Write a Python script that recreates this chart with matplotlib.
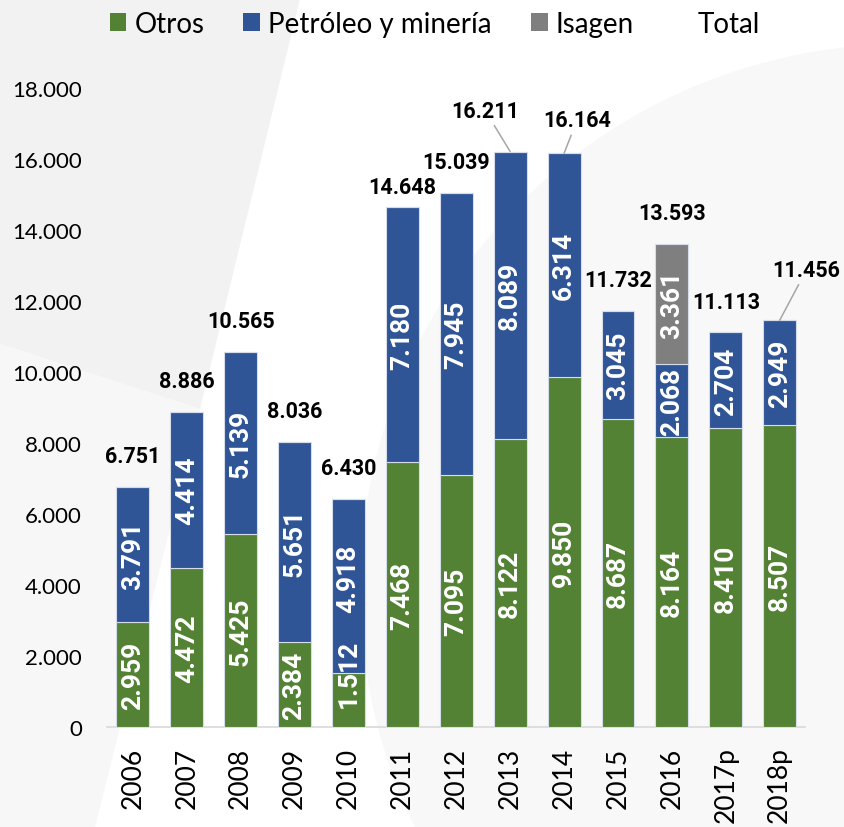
import matplotlib
matplotlib.use('Agg')
import matplotlib.pyplot as plt
from matplotlib.patches import Patch, Polygon, Circle
from matplotlib.transforms import Affine2D

plt.rcParams['font.family'] = ['Lato', 'DejaVu Sans']
BOLD = ['Roboto', 'DejaVu Sans']

years = ['2006', '2007', '2008', '2009', '2010', '2011', '2012',
         '2013', '2014', '2015', '2016', '2017p', '2018p']
otros = [2959, 4472, 5425, 2384, 1512, 7468, 7095,
         8122, 9850, 8687, 8164, 8410, 8507]
petroleo = [3791, 4414, 5139, 5651, 4918, 7180, 7945,
            8089, 6314, 3045, 2068, 2704, 2949]
isagen = [0, 0, 0, 0, 0, 0, 0, 0, 0, 0, 3361, 0, 0]
totals = [6751, 8886, 10565, 8036, 6430, 14648, 15039,
          16211, 16164, 11732, 13593, 11113, 11456]
yticks = [0, 2000, 4000, 6000, 8000, 10000, 12000, 14000, 16000, 18000]

GREEN = '#548235'
BLUE = '#2f5597'
GRAY = '#7f7f7f'

W, H = 844, 828


def px(x, y):
    # pixel coords (from top-left) -> figure fraction
    return (x / W, 1 - y / H)


def fmt(v):
    return '{:,}'.format(v).replace(',', '.')


fig = plt.figure(figsize=(W / 100, H / 100), dpi=100, facecolor='white')

# faint background shapes
fig.patches.append(Polygon([px(0, 0), px(300, 0), px(200, 410), px(0, 345)],
                           closed=True, transform=fig.transFigure,
                           facecolor='#f2f2f2', edgecolor='none', zorder=0))
fig.patches.append(Polygon([px(0, 345), px(200, 410), px(95, 828), px(0, 828)],
                           closed=True, transform=fig.transFigure,
                           facecolor='#f7f7f7', edgecolor='none', zorder=0))
circ = Circle((905, 590), 545, facecolor='#f8f8f8', edgecolor='none', zorder=0)
circ.set_transform(Affine2D().scale(1, -1).translate(0, H))
fig.patches.append(circ)

ax = fig.add_axes([107 / W, 1 - 728 / H, 698 / W, 639 / H])
ax.set_facecolor('none')
ax.set_zorder(2)

x = list(range(len(years)))
bw = 0.61
edge = dict(edgecolor='#d6dcea', linewidth=0.8)
ax.bar(x, otros, bw, color=GREEN, label='Otros', zorder=3, **edge)
ax.bar(x, petroleo, bw, bottom=otros, color=BLUE,
       label='Petróleo y minería', zorder=3, **edge)
bottom2 = [a + b for a, b in zip(otros, petroleo)]
ax.bar(x, isagen, bw, bottom=bottom2, color=GRAY, label='Isagen',
       zorder=3, **edge)

ax.set_xlim(-0.48, 12.47)
ax.set_ylim(0, 18000)
ax.set_yticks(yticks)
ax.set_yticklabels([fmt(v) for v in yticks], fontsize=16)
ax.set_xticks(x)
ax.set_xticklabels(years, rotation=90, fontsize=19)
ax.tick_params(axis='y', length=0, pad=18)
ax.tick_params(axis='x', length=0, pad=14)
for s in ['top', 'right', 'left']:
    ax.spines[s].set_visible(False)
ax.spines['bottom'].set_color('#d9d9d9')
ax.spines['bottom'].set_linewidth(1.2)

# labels inside segments
seg_shift = {(4, 0): 20, (4, 1): 6}
for i in x:
    segs = [(otros[i], 0), (petroleo[i], otros[i]), (isagen[i], bottom2[i])]
    for k, (v, b) in enumerate(segs):
        if v == 0:
            continue
        ax.annotate(fmt(v), (i, b + v / 2), xytext=(0, seg_shift.get((i, k), 0)),
                    textcoords='offset points', rotation=90, ha='center',
                    va='center', color='white', fontsize=19,
                    family=BOLD, fontweight='bold', zorder=5)

# totals
tot_off = {5: (0, 14.4), 7: (-18, 29.5), 8: (9.4, 23.8), 11: (0, 22.3),
           12: (19.4, 36.5)}
leaders = {7, 8, 12}
for i in x:
    off = tot_off.get(i, (0, 22.3))
    kw = {}
    if i in leaders:
        kw['arrowprops'] = dict(arrowstyle='-', color='#a6a6a6', lw=1.1,
                                shrinkA=1, shrinkB=0)
    ax.annotate(fmt(totals[i]), (i, totals[i]), xytext=off,
                textcoords='offset points', ha='center', va='center',
                fontsize=15.5, family=BOLD, fontweight='bold', color='black',
                annotation_clip=False, zorder=6, **kw)

handles = [Patch(facecolor=GREEN), Patch(facecolor=BLUE), Patch(facecolor=GRAY),
           Patch(facecolor='none', edgecolor='none')]
fig.legend(handles, ['Otros', 'Petróleo y minería', 'Isagen', 'Total'],
           loc='center', bbox_to_anchor=(435 / W, 1 - 25 / H), ncol=4,
           frameon=False, fontsize=20, handlelength=0.6, handleheight=0.6,
           handletextpad=0.3, columnspacing=1.4)

fig.savefig('out.png', dpi=100, facecolor=fig.get_facecolor())
